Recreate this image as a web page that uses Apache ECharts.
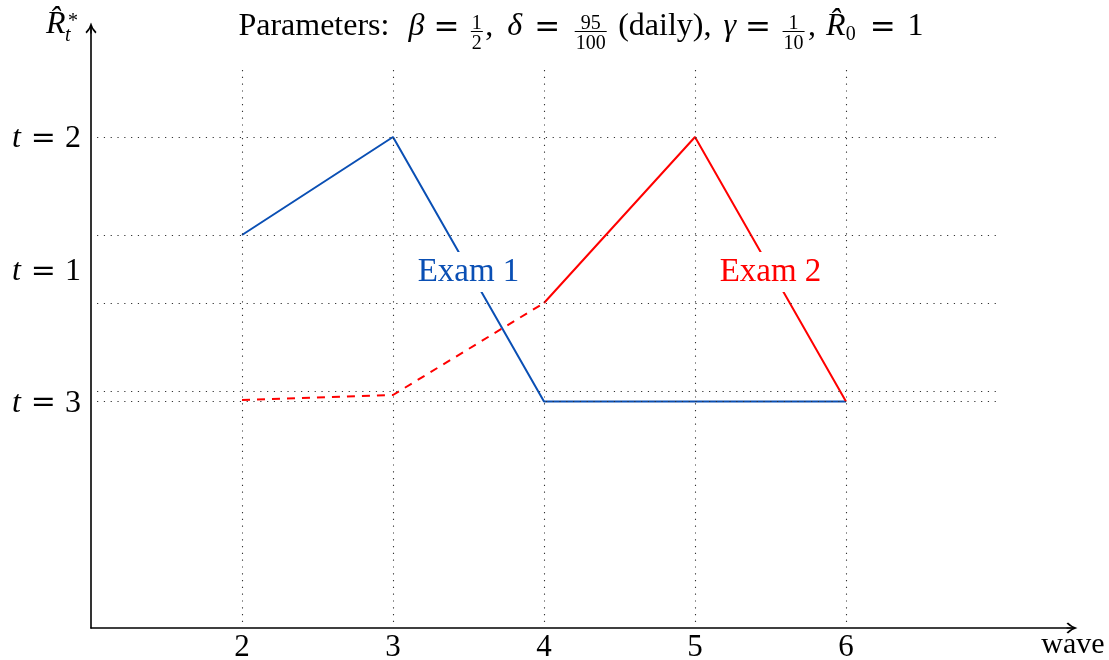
<!DOCTYPE html>
<html><head><meta charset="utf-8">
<script src="https://cdn.jsdelivr.net/npm/echarts@6/dist/echarts.min.js"></script>
<style>html,body{margin:0;padding:0;background:#fff}#c{width:1109px;height:660px}</style>
</head><body><div id="c"></div>
<script>
// ---- data ----
const waves = [2, 3, 4, 5, 6];
const exam1 = [3.93, 4.91, 2.265, 2.265, 2.265];
const exam2DashedWaves = [2, 3, 4];
const exam2Dashed = [2.28, 2.33, 3.25];
const exam2SolidWaves = [4, 5, 6];
const exam2Solid = [3.25, 4.91, 2.265];
const gridYValues = [4.91, 3.93, 3.25, 2.37, 2.265];
const gridXValues = [2, 3, 4, 5, 6];
const yTickValues = [2.265, 3.58, 4.91];
const yTickLabels = ['3', '1', '2'];
const xTickValues = [2, 3, 4, 5, 6];
const examLabels = [{name: 'Exam 1', x: 3.5, y: 3.58}, {name: 'Exam 2', x: 5.5, y: 3.58}];

const F = '"Liberation Serif", "Times New Roman", serif';
const FEQ = '"DejaVu Serif", serif';
const BLUE = '#0a4fb4', RED = '#ff0000';
const FS = 32, SF = 20;

const cv = document.createElement('canvas').getContext('2d');
function mw(t, font) { cv.font = font; return cv.measureText(t).width; }

// title pieces (gl = gap before piece, px)
const pieces = [
  {t: 'Parameters:'}, {t: 'β', i: true, gl: 19}, {t: '=', eq: true, gl: 9}, {num: '1', den: '2', gl: 11}, {t: ',', gl: 2},
  {t: 'δ', i: true, gl: 14}, {t: '=', eq: true, gl: 12}, {num: '95', den: '100', gl: 14}, {t: '(daily),', gl: 11},
  {t: 'γ', i: true, gl: 12}, {t: '=', eq: true, gl: 9}, {num: '1', den: '10', gl: 11}, {t: ',', gl: 3},
  {t: 'R\u0302', i: true, gl: 10}, {sub: '0', gl: 0}, {t: '=', eq: true, gl: 14}, {t: '1', gl: 12}
];
function pieceFont(p) {
  if (p.num || p.sub) return SF + 'px ' + F;
  if (p.eq) return '31px ' + FEQ;
  return (p.i ? 'italic ' : '') + FS + 'px ' + F;
}
function buildTitle(cx, base) {
  const els = [];
  const widths = pieces.map(p => p.num ? Math.max(mw(p.num, pieceFont(p)), mw(p.den, pieceFont(p))) + 3
                                       : mw(p.sub || p.t, pieceFont(p)));
  const total = widths.reduce((a, b) => a + b, 0) + pieces.reduce((a, p) => a + (p.gl || 0), 0);
  let x = cx - total / 2;
  const cy = base - 9;
  pieces.forEach((p, k) => {
    x += p.gl || 0;
    const w = widths[k], font = pieceFont(p);
    if (p.num) {
      els.push({type: 'text', style: {text: p.num, x: x + w / 2, y: base - 12, font, fill: '#000', align: 'center', verticalAlign: 'middle'}});
      els.push({type: 'text', style: {text: p.den, x: x + w / 2, y: base + 8, font, fill: '#000', align: 'center', verticalAlign: 'middle'}});
      els.push({type: 'line', shape: {x1: x + 0.5, y1: base - 4.5, x2: x + w - 0.5, y2: base - 4.5}, style: {stroke: '#000', lineWidth: 1}});
    } else if (p.sub) {
      els.push({type: 'text', style: {text: p.sub, x: x, y: base - 1, font, fill: '#000', align: 'left', verticalAlign: 'middle'}});
    } else if (p.eq) {
      els.push({type: 'text', style: {text: p.t, x: x, y: cy + 2, font, fill: '#000', align: 'left', verticalAlign: 'middle'}});
    } else {
      els.push({type: 'text', style: {text: p.t, x: x, y: cy, font, fill: '#000', align: 'left', verticalAlign: 'middle'}});
    }
    x += w;
  });
  return els;
}

const graphic = buildTitle(581, 36).concat([
  {type: 'text', style: {text: 'R\u0302', x: 46, y: 25, font: 'italic ' + FS + 'px ' + F, fill: '#000', align: 'left', verticalAlign: 'middle'}},
  {type: 'text', style: {text: '*', x: 68, y: 22, font: SF + 'px ' + F, fill: '#000', align: 'left', verticalAlign: 'middle'}},
  {type: 'text', style: {text: 't', x: 65, y: 36, font: 'italic ' + SF + 'px ' + F, fill: '#000', align: 'left', verticalAlign: 'middle'}},
  {type: 'text', style: {text: 'wave', x: 1073, y: 645, font: '30px ' + F, fill: '#000', align: 'center', verticalAlign: 'middle'}}
]);

const dotted = {color: '#333', width: 1.1, type: [1.2, 5.6]};
const ARROW = 'path://M5,0 Q6.2,5 10,8.6 L9,10 Q6,7.2 5,3.6 Q4,7.2 1,10 L0,8.6 Q3.8,5 5,0 Z M4.45,1 L5.55,1 L5.55,10 L4.45,10 Z';

const axisLine = {show: true, symbol: ['none', ARROW], symbolSize: [13, 11], lineStyle: {color: '#000', width: 1.6}};

const option = {
  animation: false,
  backgroundColor: '#fff',
  grid: {left: 91, right: 37, top: 28, bottom: 32, outerBoundsMode: 'none', containLabel: false},
  graphic: graphic,
  xAxis: {
    type: 'value', min: 1, max: 1 + 981 / 151,
    axisLine: axisLine,
    axisTick: {show: false},
    splitLine: {show: false},
    axisLabel: {customValues: xTickValues, color: '#000', fontFamily: F, fontSize: 31, margin: 4}
  },
  yAxis: {
    type: 'value', min: 0, max: 6,
    axisLine: axisLine,
    axisTick: {show: false},
    splitLine: {show: false},
    axisLabel: {
      customValues: yTickValues, margin: 10, color: '#000', fontFamily: F, fontSize: FS,
      padding: [4, 0, 0, 0],
      formatter: v => { const k = yTickValues.indexOf(v); return '{i|t}{e|=}' + yTickLabels[k]; },
      rich: {
        i: {fontStyle: 'italic', fontFamily: F, fontSize: FS, color: '#000'},
        e: {fontFamily: FEQ, fontSize: 30, color: '#000', padding: [0, 9, 0, 10]}
      }
    }
  },
  series: [
    {
      type: 'line', data: [], z: 1, silent: true,
      markLine: {
        silent: true, symbol: ['none', 'none'], label: {show: false}, animation: false,
        lineStyle: dotted,
        data: gridYValues.map(y => [{coord: [1.04, y]}, {coord: [7.0, y]}])
          .concat(gridXValues.map(x => [{coord: [x, 0.06]}, {coord: [x, 5.63]}]))
      }
    },
    {
      name: 'Exam 1', type: 'line', z: 3, showSymbol: false, symbol: 'none',
      lineStyle: {color: BLUE, width: 2},
      data: waves.map((w, i) => [w, exam1[i]])
    },
    {
      name: 'Exam 2 dashed', type: 'line', z: 3, showSymbol: false, symbol: 'none',
      lineStyle: {color: RED, width: 2, type: [8, 7]},
      data: exam2DashedWaves.map((w, i) => [w, exam2Dashed[i]])
    },
    {
      name: 'Exam 2', type: 'line', z: 3, showSymbol: false, symbol: 'none',
      lineStyle: {color: RED, width: 2},
      data: exam2SolidWaves.map((w, i) => [w, exam2Solid[i]])
    },
    {
      type: 'scatter', z: 6, symbolSize: 0, silent: true,
      itemStyle: {opacity: 1},
      data: examLabels.map((l, i) => ({
        value: [l.x, l.y], name: l.name,
        label: {color: i === 0 ? BLUE : RED}
      })),
      label: {
        show: true, position: 'inside', formatter: p => p.name, opacity: 1,
        fontFamily: F, fontSize: 33, lineHeight: 26, offset: [0, 2],
        backgroundColor: '#fff', padding: [7, 4]
      }
    }
  ]
};
echarts.init(document.getElementById('c')).setOption(option);
</script></body></html>
